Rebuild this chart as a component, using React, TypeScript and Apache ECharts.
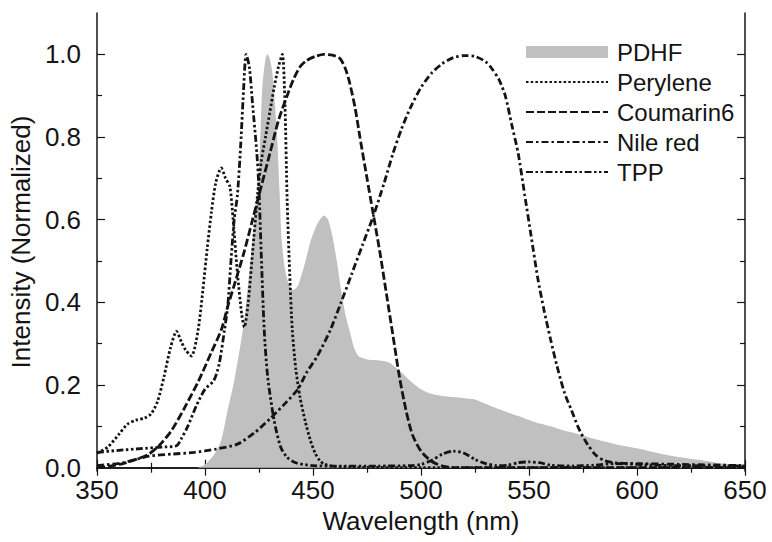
import React, { useEffect, useRef } from "react";
import * as echarts from "echarts";

// ---- Data (wavelength nm, normalized intensity) ----
const pdhf: number[][] = [
  [350, 0], [390, 0], [396, 0], [400, 0.008], [404, 0.03], [407.5, 0.066], [410.5, 0.14],
  [413.5, 0.21], [416.5, 0.3], [418.5, 0.37], [421, 0.5], [423, 0.6], [424.5, 0.67],
  [425.5, 0.78], [426.5, 0.92], [428, 0.99], [429, 1.0], [430, 0.99], [431.2, 0.955],
  [432.5, 0.87], [433.5, 0.79], [434.5, 0.67], [435.5, 0.55], [437, 0.48], [439, 0.44],
  [441, 0.43], [443, 0.44], [446, 0.49], [449, 0.55], [452, 0.59], [455, 0.61], [457, 0.6],
  [459, 0.56], [461, 0.5], [463, 0.43], [465, 0.37], [467, 0.33], [469, 0.29], [471, 0.27],
  [475, 0.262], [480, 0.26], [485, 0.255], [490, 0.235], [495, 0.21], [500, 0.19],
  [505, 0.178], [512, 0.172], [520, 0.168], [525, 0.165], [532, 0.15], [539, 0.136],
  [545, 0.125], [553, 0.11], [560, 0.1], [566, 0.09], [570, 0.085], [580, 0.07],
  [590, 0.057], [600, 0.047], [610, 0.035], [620, 0.025], [631, 0.017], [640, 0.01], [650, 0.005],
];

const perylene: number[][] = [
  [350, 0.035], [355, 0.05], [360, 0.08], [364, 0.105], [368, 0.115], [372, 0.12], [375, 0.13],
  [378, 0.16], [381, 0.22], [384, 0.29], [386.8, 0.33], [389, 0.305], [391, 0.285],
  [393.7, 0.27], [396.8, 0.333], [399, 0.43], [401, 0.53], [403, 0.62], [405, 0.69],
  [407.5, 0.725], [409.5, 0.7], [411.5, 0.68], [413, 0.6], [415, 0.47], [417, 0.37],
  [418.2, 0.34], [420, 0.4], [422, 0.52], [424.3, 0.66], [426, 0.74], [428, 0.8], [430, 0.86],
  [432, 0.92], [434, 0.97], [435.8, 1.0], [437, 0.88], [438, 0.65], [439.2, 0.47],
  [440.4, 0.333], [442, 0.24], [444, 0.17], [446.5, 0.11], [448.8, 0.066], [451, 0.035],
  [453, 0.018], [455, 0.009], [460, 0.003], [470, 0.001], [500, 0.0], [550, 0.0], [600, 0.0], [650, 0.0],
];

const coumarin6: number[][] = [
  [350, 0.0], [356, 0.004], [362, 0.01], [368, 0.02], [374, 0.033], [379, 0.055], [384.5, 0.09],
  [390, 0.14], [397, 0.21], [403, 0.28], [407.5, 0.333], [410.5, 0.39], [414, 0.45],
  [418, 0.52], [422, 0.6], [426, 0.68], [430, 0.76], [434, 0.84], [438, 0.9], [441, 0.94],
  [444, 0.97], [447, 0.985], [451, 0.995], [455, 1.0], [459, 0.998], [462.5, 0.99],
  [465, 0.965], [467, 0.93], [469.5, 0.87], [471.7, 0.8], [475, 0.7], [477.8, 0.616],
  [481, 0.52], [484, 0.42], [487, 0.32], [490, 0.22], [493, 0.14], [496, 0.08], [500, 0.04],
  [505, 0.015], [510, 0.004], [515, 0.0], [550, 0.0], [600, 0.0], [650, 0.0],
];

const nileRed: number[][] = [
  [350, 0.005], [362, 0.012], [374, 0.028], [385, 0.033], [395, 0.037], [405, 0.045],
  [415, 0.057], [423, 0.085], [430, 0.118], [437, 0.155], [443, 0.19], [447, 0.23],
  [452, 0.27], [458, 0.333], [463, 0.4], [468, 0.47], [473, 0.54], [478, 0.61], [483, 0.69],
  [487, 0.76], [491, 0.82], [495, 0.87], [500, 0.92], [505, 0.955], [510, 0.978], [515, 0.992],
  [520, 0.997], [525, 0.995], [530, 0.982], [533, 0.964], [536, 0.94], [539, 0.9], [542, 0.83],
  [545, 0.76], [548, 0.66], [551, 0.56], [554, 0.46], [557, 0.38], [560, 0.31], [563, 0.245],
  [566.5, 0.18], [569.6, 0.14], [573, 0.095], [577, 0.057], [581, 0.03], [585, 0.017],
  [590, 0.012], [600, 0.01], [620, 0.008], [650, 0.005],
];

const tpp: number[][] = [
  [350, 0.037], [360, 0.042], [370, 0.046], [380, 0.05], [386.8, 0.053], [389, 0.07],
  [392, 0.1], [396, 0.15], [400, 0.19], [404, 0.21], [406.5, 0.25], [409, 0.333],
  [410.5, 0.39], [412, 0.5], [413.5, 0.6], [415, 0.66], [416.5, 0.78], [418, 0.93],
  [419, 1.0], [420.5, 0.97], [422, 0.88], [424, 0.76], [425, 0.67], [426, 0.52],
  [427.4, 0.333], [429, 0.22], [432, 0.114], [435, 0.05], [438, 0.025], [442, 0.012],
  [450, 0.005], [460, 0.004], [480, 0.004], [495, 0.005], [500, 0.008], [505, 0.018],
  [510, 0.033], [515, 0.04], [520, 0.035], [525, 0.02], [530, 0.01], [535, 0.005],
  [540, 0.006], [545, 0.012], [550, 0.014], [555, 0.012], [560, 0.006], [570, 0.004],
  [580, 0.006], [590, 0.01], [600, 0.008], [610, 0.006], [620, 0.005], [650, 0.004],
];

const seriesNames = ["PDHF", "Perylene", "Coumarin6", "Nile red", "TPP"];
const xMajorTicks = [350, 400, 450, 500, 550, 600, 650];
const xMinorTicks = [375, 425, 475, 525, 575, 625];
const yMajorTicks = [0, 0.2, 0.4, 0.6, 0.8, 1.0];
const yMinorTicks = [0.1, 0.3, 0.5, 0.7, 0.9];

const FONT = "'Liberation Sans', Arial, sans-serif";
const INK = "#141414";
const GRAY = "#c0c0c0";

export default function App() {
  const ref = useRef<HTMLDivElement>(null);

  useEffect(() => {
    document.body.style.margin = "0";
    if (!ref.current) return;
    const chart = echarts.init(ref.current, undefined, { renderer: "svg" });

    const axisLine = { show: true, lineStyle: { color: INK, width: 1.5 } };
    const tickStyle = { color: INK, width: 1.2 };

    const xAxisBase = (position: string, major: boolean, labels: boolean, name?: string) => ({
      type: "value",
      min: 350,
      max: 650,
      interval: major ? 50 : 25,
      position,
      axisLine: major ? axisLine : { show: false },
      axisTick: {
        show: true,
        inside: true,
        length: major ? 8 : 5,
        lineStyle: tickStyle,
        customValues: major ? xMajorTicks : xMinorTicks,
      },
      axisLabel: labels
        ? {
            show: true,
            customValues: xMajorTicks,
            fontSize: 26,
            fontFamily: FONT,
            color: INK,
            margin: 6,
          }
        : { show: false },
      splitLine: { show: false },
      name: name,
      nameLocation: "middle",
      nameGap: 37,
      nameTextStyle: { fontSize: 26, fontFamily: FONT, color: INK },
    });

    const yAxisBase = (position: string, major: boolean, labels: boolean, name?: string) => ({
      type: "value",
      min: -0.008,
      max: 1.1,
      position,
      axisLine: major ? axisLine : { show: false },
      axisTick: {
        show: true,
        inside: true,
        length: major ? 8 : 5,
        lineStyle: tickStyle,
        customValues: major ? yMajorTicks : yMinorTicks,
      },
      axisLabel: labels
        ? {
            show: true,
            customValues: yMajorTicks,
            formatter: (v: number) => v.toFixed(1),
            fontSize: 26,
            fontFamily: FONT,
            color: INK,
            margin: 16,
          }
        : { show: false },
      splitLine: { show: false },
      name: name,
      nameLocation: "middle",
      nameGap: 52,
      nameRotate: 90,
      nameTextStyle: { fontSize: 26, fontFamily: FONT, color: INK },
    });

    const lineSeries = (name: string, data: number[][], dash: number[] | string) => ({
      name,
      type: "line",
      data,
      xAxisIndex: 0,
      yAxisIndex: 0,
      symbol: "none",
      showSymbol: false,
      smooth: 0.25,
      lineStyle: { color: INK, width: 2.8, type: dash },
      itemStyle: { color: INK },
      z: 3,
    });

    const hiddenSymbol = { opacity: 0, color: "rgba(0,0,0,0)", borderWidth: 0 };

    chart.setOption({
      animation: false,
      backgroundColor: "#ffffff",
      grid: { left: 87, right: 27, top: 13, bottom: 71, containLabel: false },
      xAxis: [
        xAxisBase("bottom", true, true, "Wavelength (nm)"),
        xAxisBase("bottom", false, false),
        xAxisBase("top", true, false),
        xAxisBase("top", false, false),
      ],
      yAxis: [
        yAxisBase("left", true, true, "Intensity (Normalized)"),
        yAxisBase("left", false, false),
        yAxisBase("right", true, false),
        yAxisBase("right", false, false),
      ],
      legend: {
        orient: "vertical",
        left: 520,
        top: 35,
        itemWidth: 82,
        itemHeight: 12,
        itemGap: 6,
        textStyle: { fontSize: 24, fontFamily: FONT, color: INK, padding: [0, 0, 0, 4] },
        data: [
          { name: seriesNames[0], icon: "rect", itemStyle: { color: GRAY } },
          { name: seriesNames[1], itemStyle: hiddenSymbol },
          { name: seriesNames[2], itemStyle: hiddenSymbol },
          { name: seriesNames[3], itemStyle: hiddenSymbol },
          { name: seriesNames[4], itemStyle: hiddenSymbol },
        ],
      },
      series: [
        {
          name: seriesNames[0],
          type: "line",
          data: pdhf,
          symbol: "none",
          showSymbol: false,
          smooth: 0.2,
          lineStyle: { width: 0, color: GRAY },
          itemStyle: { color: GRAY },
          areaStyle: { color: GRAY, opacity: 1 },
          z: 1,
        },
        lineSeries(seriesNames[1], perylene, [2.5, 2.2]),
        lineSeries(seriesNames[2], coumarin6, [8, 3]),
        lineSeries(seriesNames[3], nileRed, [7, 3, 2.5, 3]),
        lineSeries(seriesNames[4], tpp, [7, 2.5, 2.5, 2.5, 2.5, 2.5]),
      ],
    });

    return () => chart.dispose();
  }, []);

  return <div ref={ref} style={{ width: 772, height: 542 }} />;
}
